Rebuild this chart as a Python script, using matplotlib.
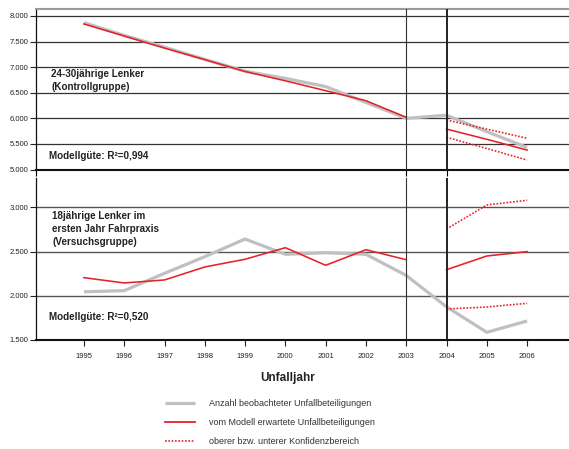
import matplotlib
matplotlib.use("Agg")
import matplotlib.pyplot as plt
from matplotlib.lines import Line2D
from matplotlib.ticker import FuncFormatter

plt.rcParams["font.family"] = ["Liberation Sans", "DejaVu Sans"]

years = list(range(1995, 2007))
fit_years = years[:9]        # 1995-2003
fc_years = years[9:]         # 2004-2006

# 24-30jaehrige Lenker (Kontrollgruppe)
ctrl_obs = [7870, 7620, 7390, 7150, 6920, 6780, 6620, 6310, 6000, 6060, 5740, 5430]
ctrl_fit = [7843, 7608, 7372, 7147, 6915, 6733, 6540, 6344, 6020]
ctrl_fc = [5790, 5590, 5380]
ctrl_hi = [5967, 5790, 5610]
ctrl_lo = [5629, 5410, 5186]

# 18jaehrige Lenker (Versuchsgruppe)
test_obs = [2045, 2058, 2254, 2442, 2642, 2469, 2487, 2469, 2230, 1875, 1587, 1715]
test_fit = [2205, 2145, 2179, 2326, 2413, 2544, 2345, 2521, 2408]
test_fc = [2295, 2450, 2499]
test_hi = [2755, 3027, 3080]
test_lo = [1851, 1873, 1915]

GRAY = "#c0c0c2"
RED = "#e8202a"
INK = "#222222"

W, H = 569, 449
fig = plt.figure(figsize=(W / 100, H / 100), dpi=100)

def frac(px_left, px_top, px_right, px_bottom):
    return [px_left / W, 1 - px_bottom / H, (px_right - px_left) / W, (px_bottom - px_top) / H]

def at(px_x, px_y):
    return px_x / W, 1 - px_y / H

ax1 = fig.add_axes(frac(36, 9, 569, 169.5))
ax2 = fig.add_axes(frac(36, 178, 569, 340))

xmin, xmax = 1993.81, 2007.04
thousands = FuncFormatter(lambda v, p: f"{int(v):,}".replace(",", "."))

def draw(ax, obs, fit, fc, hi, lo):
    ax.plot(years, obs, color=GRAY, lw=2.3, solid_capstyle="butt", zorder=3)
    ax.plot(fit_years, fit, color=RED, lw=1.15, zorder=4)
    ax.plot(fc_years, fc, color=RED, lw=1.15, zorder=4)
    ax.plot(fc_years, hi, color=RED, lw=1.2, ls=(0, (1, 1)), zorder=4)
    ax.plot(fc_years, lo, color=RED, lw=1.2, ls=(0, (1, 1)), zorder=4)
    ax.axvline(2003, color="#333333", lw=0.8, zorder=5)
    ax.axvline(2004, color="#222222", lw=1.4, zorder=5)
    ax.set_xlim(xmin, xmax)
    ax.yaxis.set_major_formatter(thousands)
    ax.tick_params(axis="y", labelsize=5.5, length=4, width=0.8, pad=1.5, colors=INK)
    ax.spines["right"].set_visible(False)
    ax.spines["left"].set_linewidth(0.9)
    ax.spines["bottom"].set_linewidth(1.5)
    ax.spines["left"].set_color("#111111")
    ax.spines["bottom"].set_color("#111111")

draw(ax1, ctrl_obs, ctrl_fit, ctrl_fc, ctrl_hi, ctrl_lo)
draw(ax2, test_obs, test_fit, test_fc, test_hi, test_lo)

# upper panel
ax1.set_ylim(5000, 8136)
ax1.set_yticks(range(5000, 8001, 500))
for v in range(5500, 8001, 500):
    ax1.axhline(v, color="#333333", lw=0.9, zorder=1)
ax1.spines["top"].set_color("#9a9a9a")
ax1.spines["top"].set_linewidth(1.5)
ax1.set_xticks([xmin, 2003, 2004])
ax1.set_xticklabels([])
ax1.tick_params(axis="x", length=4, width=0.8)

# lower panel
ax2.set_ylim(1500, 3332)
ax2.set_yticks(range(1500, 3001, 500))
for v in range(2000, 3001, 500):
    ax2.axhline(v, color="#555555", lw=1.0, zorder=1)
ax2.spines["top"].set_visible(False)
ax2.set_xticks(years)
ax2.tick_params(axis="x", labelsize=5.5, length=4, width=0.8, pad=5, colors=INK)

bold = dict(fontsize=7.1, fontweight="bold", color=INK, linespacing=1.35, va="top", ha="left")
fig.text(*at(51, 69), "24-30jährige Lenker\n(Kontrollgruppe)", **bold)
fig.text(*at(49, 156), "Modellgüte: R²=0,994", fontsize=7.1, fontweight="bold",
         color=INK, va="center", ha="left")
fig.text(*at(52, 211), "18jährige Lenker im\nersten Jahr Fahrpraxis\n(Versuchsgruppe)", **bold)
fig.text(*at(49, 317), "Modellgüte: R²=0,520", fontsize=7.1, fontweight="bold",
         color=INK, va="center", ha="left")

fig.text(*at(288, 378), "Unfalljahr", fontsize=8.5, fontweight="bold",
         color=INK, ha="center", va="center")

handles = [
    Line2D([], [], color=GRAY, lw=2.3, solid_capstyle="butt"),
    Line2D([], [], color=RED, lw=1.3),
    Line2D([], [], color=RED, lw=1.2, ls=(0, (1, 1))),
]
labels = [
    "Anzahl beobachteter Unfallbeteiligungen",
    "vom Modell erwartete Unfallbeteiligungen",
    "oberer bzw. unterer Konfidenzbereich",
]
leg = fig.legend(handles, labels, loc="upper left", bbox_to_anchor=at(165, 399),
                 frameon=False, fontsize=6.5, handlelength=3.3, handletextpad=1.6,
                 labelspacing=1.12, borderpad=0, borderaxespad=0)
for t in leg.get_texts():
    t.set_color("#333333")

fig.savefig("out.png", dpi=100)
